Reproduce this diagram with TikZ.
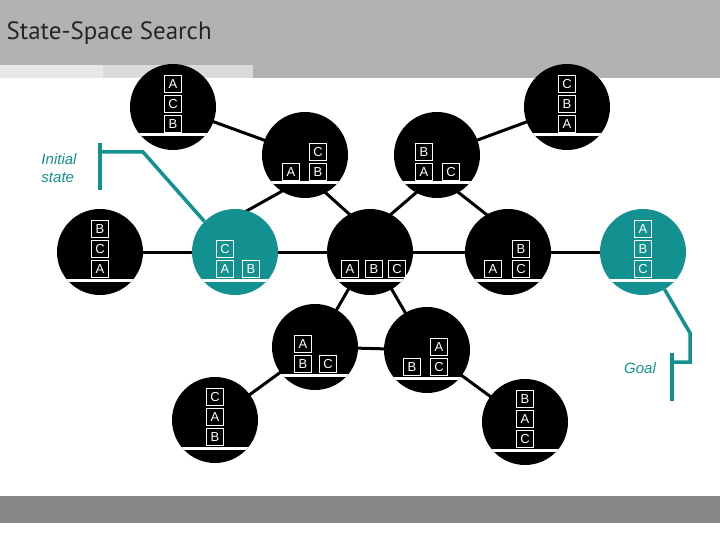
\documentclass[tikz,border=0pt]{standalone}
\usepackage{fontspec}
\setmainfont{Liberation Sans}
\newfontfamily\titlefont{PT Sans}
\definecolor{teal1}{HTML}{139090}
\definecolor{hdr}{HTML}{B2B2B2}
\definecolor{strip1}{HTML}{E8E8E8}
\definecolor{strip2}{HTML}{DADADA}
\definecolor{foot}{HTML}{888888}
\tikzset{
  st/.style={circle,minimum size=86pt,inner sep=0pt},
  conn/.style={line width=3pt,black},
  tconn/.style={line width=3.5pt,teal1},
  blk/.style={draw=white,line width=1.5pt,minimum size=17pt,inner sep=0pt,text=white,font=\fontsize{13}{13}\selectfont},
  lbl/.style={text=teal1,font=\itshape\fontsize{15}{18}\selectfont,align=left}
}
% #1 name, #2 x, #3 y, #4 colour, #5 block list {dx/row/letter}
\newcommand{\stateX}[5]{%
  \node[st,fill=#4] (#1) at (#2,#3) {};
  \begin{scope}
    \clip (#2,#3) circle (43);
    \draw[white,line width=3pt] ($(#2,#3)+(-45,28)$) -- ($(#2,#3)+(45,28)$);
  \end{scope}
  \foreach \dx/\r/\l in {#5} {
    \node[blk,fill=#4] (#1-\l) at ($(#2,#3)+(\dx,17-20*\r)$) {\l};
  }
}
\usetikzlibrary{calc}
\begin{document}
\begin{tikzpicture}[x=1pt,y=-1pt]
\useasboundingbox (0,0) rectangle (720,540);
\fill[hdr] (0,0) rectangle (720,78);
\fill[strip1] (0,65) rectangle (103,78);
\fill[strip2] (103,65) rectangle (253,78);
\fill[foot] (0,496) rectangle (720,523);
\node[anchor=west,text=black!85,font=\titlefont\fontsize{25}{27}\selectfont] (title) at (3,33) {State-Space Search};
% edges
\coordinate (pACB) at (173,107);
\coordinate (pCBA) at (567,107);
\coordinate (pACB2) at (305,155);
\coordinate (pBAC2) at (437,155);
\coordinate (pBCA) at (100,252);
\coordinate (pINI) at (235,252);
\coordinate (pFLAT) at (370,252);
\coordinate (pABC2) at (508,252);
\coordinate (pGOAL) at (643,252);
\coordinate (pABC3) at (315,347);
\coordinate (pBAC3) at (427,350);
\coordinate (pCAB) at (215,420);
\coordinate (pBAC) at (525,422);
\draw[conn] (pACB) -- (pACB2);
\draw[conn] (pCBA) -- (pBAC2);
\draw[conn] ($(pACB2)+(-12,30)$) -- ($(pINI)+(-8,-30)$);
\draw[conn] ($(pACB2)+(12,30)$) -- ($(pFLAT)+(-12,-30)$);
\draw[conn] ($(pBAC2)+(-12,30)$) -- ($(pFLAT)+(12,-30)$);
\draw[conn] ($(pBAC2)+(12,30)$) -- ($(pABC2)+(-12,-30)$);
\draw[conn] (pBCA) -- (pINI) -- (pFLAT) -- (pABC2) -- (pGOAL);
\draw[conn] (pFLAT) -- (pABC3);
\draw[conn] (pFLAT) -- (pBAC3);
\draw[conn] (pABC3) -- (pBAC3);
\draw[conn] (pABC3) -- (pCAB);
\draw[conn] (pBAC3) -- (pBAC);
% states
\stateX{acb}{173}{107}{black}{0/2/A,0/1/C,0/0/B}
\stateX{cba}{567}{107}{black}{0/2/C,0/1/B,0/0/A}
\stateX{acb2}{305}{155}{black}{-14/0/A,13/1/C,13/0/B}
\stateX{bac2}{437}{155}{black}{-13/1/B,-13/0/A,14/0/C}
\stateX{bca}{100}{252}{black}{0/2/B,0/1/C,0/0/A}
\stateX{ini}{235}{252}{teal1}{-10/1/C,-10/0/A,16/0/B}
\stateX{flat}{370}{252}{black}{-20/0/A,4/0/B,27/0/C}
\stateX{abc2}{508}{252}{black}{-15/0/A,13/1/B,13/0/C}
\stateX{goal}{643}{252}{teal1}{0/2/A,0/1/B,0/0/C}
\stateX{abc3}{315}{347}{black}{-12/1/A,-12/0/B,13/0/C}
\stateX{bac3}{427}{350}{black}{-15/0/B,12/1/A,12/0/C}
\stateX{cab}{215}{420}{black}{0/2/C,0/1/A,0/0/B}
\stateX{bacs}{525}{422}{black}{0/2/B,0/1/A,0/0/C}
% labels and brackets
\node[lbl] (initlbl) at (59,168) {Initial\\state};
\coordinate (i1) at (100,143);
\coordinate (i2) at (100,190);
\coordinate (i3) at (100,152);
\coordinate (i4) at (143,152);
\draw[tconn] (i1) -- (i2);
\draw[tconn] (i3) -- (i4) -- (ini.135);
\node[lbl] (goallbl) at (640,368) {Goal};
\coordinate (g1) at (690,333);
\coordinate (g2) at (690,362);
\coordinate (g3) at (672,362);
\coordinate (g4) at (672,353);
\coordinate (g5) at (672,401);
\draw[tconn] (goal.300) -- (g1) -- (g2) -- (g3);
\draw[tconn] (g4) -- (g5);
\end{tikzpicture}
\end{document}
